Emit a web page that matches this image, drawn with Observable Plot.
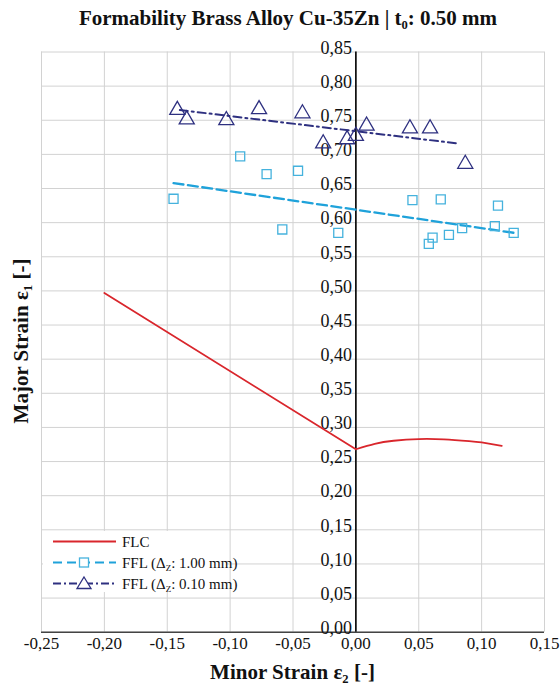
<!DOCTYPE html>
<html>
<head>
<meta charset="utf-8">
<script src="https://cdn.jsdelivr.net/npm/d3@7"></script>
<script src="https://cdn.jsdelivr.net/npm/@observablehq/plot@0.6"></script>
<style>
  html, body { margin: 0; padding: 0; background: #fff; }
  #wrap { position: relative; width: 560px; height: 685px; font-family: "Liberation Serif", "Times New Roman", serif; color: #111; }
  #chart { position: absolute; left: 0; top: 0; }
  .t { position: absolute; white-space: nowrap; font-weight: bold; }
  sub { font-size: 0.6em; vertical-align: -0.3em; line-height: 0; }
  #legend { position: absolute; left: 43px; top: 531px; width: 183px; height: 61px; background: #fff; }
  #legend svg { position: absolute; left: 0; top: 0; }
  #legend .lt { position: absolute; left: 79px; font-size: 15px; line-height: 16px; white-space: nowrap; }
</style>
</head>
<body>
<div id="wrap">
  <div id="chart"></div>
  <div class="t" style="left:0;width:576px;top:6px;text-align:center;font-size:21px;line-height:24px;">Formability Brass Alloy Cu-35Zn | t<sub>0</sub>: 0.50 mm</div>
  <div class="t" style="left:0;width:585px;top:660px;text-align:center;font-size:21px;line-height:24px;">Minor Strain ε<sub>2</sub> [-]</div>
  <div class="t" style="left:21px;top:341px;font-size:21px;line-height:24px;transform:translate(-50%,-50%) rotate(-90deg);">Major Strain ε<sub>1</sub> [-]</div>
  <div id="legend">
    <svg width="183" height="61">
      <line x1="10" x2="73" y1="10.5" y2="10.5" stroke="#d9262c" stroke-width="1.8"/>
      <line x1="10" x2="73" y1="31.5" y2="31.5" stroke="#1fa2da" stroke-width="2" stroke-dasharray="9,5"/>
      <rect x="36.5" y="27" width="9" height="9" fill="#fff" stroke="#45b2dd" stroke-width="1.3"/>
      <line x1="10" x2="73" y1="52.5" y2="52.5" stroke="#2e3080" stroke-width="1.8" stroke-dasharray="8,3,2,3"/>
      <path d="M41,46 L48,57.5 L34,57.5 Z" fill="#fff" stroke="#2e3080" stroke-width="1.3"/>
    </svg>
    <div class="lt" style="top:2.5px;">FLC</div>
    <div class="lt" style="top:23.5px;">FFL (Δ<sub>Z</sub>: 1.00 mm)</div>
    <div class="lt" style="top:44.5px;">FFL (Δ<sub>Z</sub>: 0.10 mm)</div>
  </div>
</div>
<script>
// Axis ticks
const xTicks = [-0.25, -0.20, -0.15, -0.10, -0.05, 0.00, 0.05, 0.10, 0.15];
const yTicks = [0.00, 0.05, 0.10, 0.15, 0.20, 0.25, 0.30, 0.35, 0.40, 0.45, 0.50, 0.55, 0.60, 0.65, 0.70, 0.75, 0.80, 0.85];

// FLC (forming limit curve)
const flcLeftX = [-0.200, 0.000];
const flcLeftY = [0.497, 0.268];
const flcRightX = [0.000, 0.015, 0.030, 0.050, 0.070, 0.090, 0.100, 0.116];
const flcRightY = [0.268, 0.276, 0.2805, 0.283, 0.2825, 0.280, 0.278, 0.273];

// FFL (Δz: 1.00 mm)
const ffl1X = [-0.145, -0.092, -0.071, -0.046, -0.0585, -0.014, 0.045, 0.0675, 0.113, 0.058, 0.061, 0.074, 0.0845, 0.1105, 0.1255];
const ffl1Y = [0.635, 0.697, 0.671, 0.676, 0.590, 0.585, 0.633, 0.634, 0.625, 0.569, 0.578, 0.582, 0.592, 0.595, 0.585];
const ffl1TrendX = [-0.145, 0.126];
const ffl1TrendY = [0.658, 0.585];

// FFL (Δz: 0.10 mm)
const ffl2X = [-0.142, -0.1345, -0.103, -0.077, -0.0425, -0.026, -0.007, 0.000, 0.0085, 0.043, 0.059, 0.087];
const ffl2Y = [0.765, 0.751, 0.750, 0.766, 0.760, 0.716, 0.722, 0.727, 0.742, 0.738, 0.738, 0.686];
const ffl2TrendX = [-0.140, 0.081];
const ffl2TrendY = [0.765, 0.716];

const zip = (xs, ys) => xs.map((x, i) => ({x, y: ys[i]}));
const fmt = d => d.toFixed(2).replace(".", ",").replace("-0,00", "0,00");

const chart = Plot.plot({
  width: 560,
  height: 685,
  marginTop: 51.5,
  marginBottom: 53.3,
  marginLeft: 41,
  marginRight: 16,
  style: {fontFamily: "'Liberation Serif', 'Times New Roman', serif", fontSize: "18px", color: "#111", background: "transparent"},
  x: {domain: [-0.25, 0.15], axis: null},
  y: {domain: [0, 0.85], axis: null},
  marks: [
    Plot.gridX(xTicks, {stroke: "#d2d2d2", strokeOpacity: 1, strokeWidth: 1}),
    Plot.gridY(yTicks, {stroke: "#d2d2d2", strokeOpacity: 1, strokeWidth: 1}),
    Plot.ruleY([0], {stroke: "#444", strokeWidth: 1.6}),
    Plot.ruleX([0], {y1: 0, y2: 0.85, stroke: "#000", strokeWidth: 1.6}),
    Plot.axisX(xTicks, {tickFormat: fmt, tickSize: 0, tickPadding: 5, label: null, fontSize: 17}),
    Plot.text(yTicks, {x: 0, y: d => d, text: fmt, textAnchor: "end", dx: -4, dy: -4, fontSize: 18}),
    Plot.line(zip(flcLeftX, flcLeftY), {x: "x", y: "y", stroke: "#d9262c", strokeWidth: 1.8}),
    Plot.line(zip(flcRightX, flcRightY), {x: "x", y: "y", stroke: "#d9262c", strokeWidth: 1.8, curve: "natural"}),
    Plot.line(zip(ffl1TrendX, ffl1TrendY), {x: "x", y: "y", stroke: "#1fa2da", strokeWidth: 2.3, strokeDasharray: "10,4.5"}),
    Plot.line(zip(ffl2TrendX, ffl2TrendY), {x: "x", y: "y", stroke: "#2e3080", strokeWidth: 2, strokeDasharray: "8,4,2,4"}),
    Plot.dot(zip(ffl1X, ffl1Y), {x: "x", y: "y", symbol: "square", r: 5.1, stroke: "#45b2dd", strokeWidth: 1.3, fill: "none"}),
    Plot.dot(zip(ffl2X, ffl2Y), {x: "x", y: "y", symbol: "triangle", r: 5.6, stroke: "#2e3080", strokeWidth: 1.3, fill: "none"})
  ]
});
document.getElementById("chart").appendChild(chart);
</script>
</body>
</html>
